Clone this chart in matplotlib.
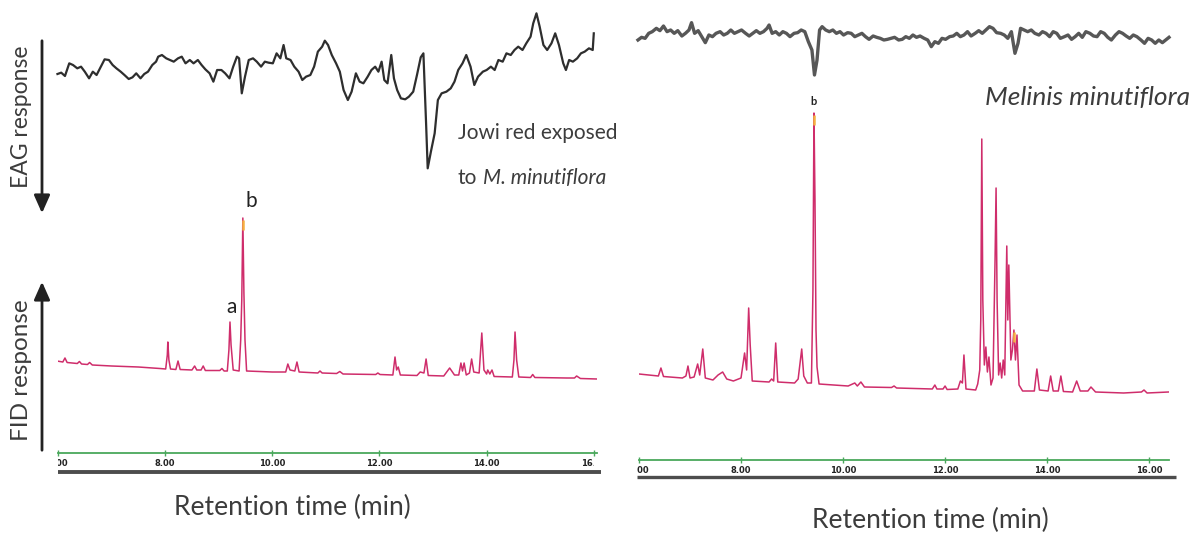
import matplotlib.pyplot as plt
from matplotlib.patches import FancyArrowPatch, Rectangle

plt.rcParams['font.family'] = ['Lato', 'DejaVu Sans']

# ---- EAG traces (time in min, response in arbitrary units) ----
eag_left_t = [
    5.99, 6.06, 6.13, 6.21, 6.28, 6.36, 6.43, 6.50, 6.58, 6.65,
    6.72, 6.80, 6.87, 6.95, 7.02, 7.09, 7.17, 7.24, 7.32, 7.39,
    7.46, 7.54, 7.61, 7.68, 7.76, 7.83, 7.87, 7.94, 8.02, 8.09,
    8.16, 8.24, 8.31, 8.38, 8.46, 8.53, 8.61, 8.68, 8.75, 8.83,
    8.90, 8.97, 9.05, 9.12, 9.20, 9.27, 9.34, 9.38, 9.43, 9.49,
    9.56, 9.64, 9.71, 9.79, 9.86, 9.93, 10.01, 10.08, 10.15, 10.21,
    10.26, 10.34, 10.41, 10.49, 10.56, 10.63, 10.71, 10.78, 10.85, 10.93,
    10.98, 11.04, 11.11, 11.19, 11.26, 11.33, 11.41, 11.48, 11.56, 11.63,
    11.70, 11.78, 11.85, 11.92, 11.98, 12.04, 12.09, 12.15, 12.22, 12.27,
    12.33, 12.40, 12.48, 12.55, 12.63, 12.70, 12.77, 12.82, 12.87, 12.90,
    12.96, 13.03, 13.09, 13.16, 13.25, 13.33, 13.40, 13.47, 13.55, 13.62,
    13.70, 13.77, 13.84, 13.93, 14.00, 14.08, 14.15, 14.22, 14.30, 14.37,
    14.45, 14.52, 14.59, 14.67, 14.74, 14.82, 14.87, 14.93, 14.99, 15.06,
    15.13, 15.21, 15.28, 15.35, 15.43, 15.48, 15.54, 15.61, 15.69, 15.76,
    15.83, 15.91, 15.98, 16.00]
eag_left_v = [
    -1.2, -0.8, -1.8, 2.0, 1.5, 0.5, 1.0, -0.5, -2.5, -0.5,
    -1.5, 1.0, 3.2, 3.0, 1.5, 0.5, -0.5, -1.5, -2.7, -2.2,
    -1.0, -2.5, -1.2, -0.5, 1.5, 2.5, 4.0, 4.5, 3.5, 3.0,
    2.5, 3.5, 4.0, 2.0, 3.0, 2.0, 3.0, 1.5, 0.2, -1.0,
    -3.5, 0.0, 0.0, -1.0, -2.5, 1.0, 4.0, 3.5, -7.0, -2.0,
    3.0, 3.5, 2.5, 1.0, 2.5, 2.2, 2.0, 5.0, 3.5, 7.5,
    3.5, 3.0, 1.0, -0.5, -3.0, -2.0, -1.5, 1.0, 5.5, 7.0,
    8.8, 7.5, 4.5, 2.0, -0.5, -6.0, -9.0, -6.5, -1.0, -3.5,
    -4.0, -2.0, 0.0, 1.0, -0.5, 2.5, -3.0, -4.0, 4.5, -2.5,
    -6.0, -8.5, -8.8, -8.0, -6.5, -1.5, 3.8, 5.0, -16.0, -29.5,
    -24.5, -19.0, -9.0, -7.0, -6.5, -5.5, -3.5, 0.0, 2.0, 4.5,
    1.0, -4.5, -2.0, -0.5, 0.0, 1.0, 0.0, 3.0, 2.5, 5.0,
    4.5, 6.0, 7.0, 6.0, 8.0, 10.0, 14.0, 17.0, 13.0, 7.5,
    6.0, 8.0, 11.0, 7.5, 2.0, 0.0, 3.0, 2.5, 3.5, 5.0,
    5.5, 6.5, 6.0, 11.0]

eag_right_t = [
    5.98, 6.05, 6.12, 6.19, 6.26, 6.34, 6.41, 6.48, 6.55, 6.62,
    6.69, 6.76, 6.84, 6.91, 6.98, 7.03, 7.09, 7.16, 7.23, 7.30,
    7.37, 7.44, 7.51, 7.59, 7.66, 7.73, 7.80, 7.87, 7.94, 8.01,
    8.09, 8.16, 8.23, 8.30, 8.37, 8.44, 8.51, 8.55, 8.61, 8.68,
    8.75, 8.82, 8.89, 8.96, 9.04, 9.11, 9.18, 9.25, 9.32, 9.39,
    9.44, 9.49, 9.54, 9.59, 9.66, 9.73, 9.80, 9.87, 9.94, 10.01,
    10.09, 10.16, 10.23, 10.30, 10.37, 10.44, 10.51, 10.59, 10.66, 10.73,
    10.80, 10.87, 10.94, 11.01, 11.09, 11.16, 11.23, 11.30, 11.37, 11.44,
    11.51, 11.59, 11.66, 11.73, 11.80, 11.87, 11.94, 12.01, 12.09, 12.16,
    12.23, 12.30, 12.37, 12.44, 12.51, 12.59, 12.66, 12.73, 12.80, 12.87,
    12.94, 13.01, 13.09, 13.16, 13.23, 13.30, 13.37, 13.43, 13.48, 13.55,
    13.62, 13.69, 13.76, 13.84, 13.91, 13.98, 14.05, 14.12, 14.19, 14.26,
    14.34, 14.41, 14.48, 14.55, 14.62, 14.69, 14.76, 14.84, 14.91, 14.98,
    15.05, 15.12, 15.19, 15.26, 15.34, 15.41, 15.48, 15.55, 15.62, 15.69,
    15.76, 15.84, 15.91, 15.98, 16.05, 16.12, 16.19, 16.26, 16.34, 16.39]
eag_right_v = [
    -0.5, 0.3, 0.0, 1.5, 2.0, 3.0, 2.3, 3.7, 2.0, 2.5,
    1.5, 2.3, 0.7, 1.5, 2.5, 4.7, 1.5, 2.3, 0.5, -1.3,
    1.0, 0.5, 1.5, 2.0, 1.0, 1.5, 2.5, 1.5, 2.0, 2.5,
    1.5, 0.7, 1.5, 2.3, 1.5, 2.0, 3.0, 4.0, 1.5, 2.0,
    1.0, 2.0, 1.5, 0.5, 1.5, 1.7, 2.5, 2.0, -1.0, -3.5,
    -11.0, -6.5, 2.5, 3.5, 2.5, 2.0, 2.5, 1.5, 2.0, 1.0,
    1.7, 1.5, 0.5, 1.0, 1.5, 0.5, -0.3, 0.7, 0.3, 0.0,
    -0.5, -0.3, 0.0, 0.3, -0.5, -0.3, 0.5, 0.0, 1.0, 0.3,
    0.7, 0.0, -0.5, -2.5, -1.0, -1.5, 0.0, -0.3, 0.5, 0.7,
    1.5, 0.5, 1.0, 2.0, 0.7, 1.5, 2.3, 1.5, 2.5, 3.5,
    3.0, 1.7, 1.5, 1.0, 0.0, 2.0, -4.5, -1.5, 3.0, 2.5,
    2.0, 2.5, 1.5, 1.0, 2.0, 1.5, 0.5, 2.0, 1.5, 0.0,
    0.5, 1.0, -0.3, 0.5, 1.5, 0.3, 2.0, 1.5, 0.7, 0.5,
    2.0, 1.5, 0.3, -0.5, 1.0, 2.0, 1.5, 0.7, 0.0, 1.0,
    0.5, -0.5, -1.5, 0.0, -0.5, -1.5, -0.5, -1.3, -0.3, 0.3]

# ---- FID chromatograms ----
fid_left_t = [
    5.98, 6.09, 6.13, 6.17, 6.36, 6.40, 6.44, 6.55, 6.59, 6.64,
    7.00, 7.50, 7.90, 8.01, 8.04, 8.05, 8.07, 8.10, 8.20, 8.24,
    8.28, 8.50, 8.55, 8.59, 8.67, 8.71, 8.75, 9.02, 9.06, 9.10,
    9.16, 9.19, 9.21, 9.23, 9.27, 9.38, 9.41, 9.43, 9.45, 9.47,
    9.49, 9.52, 10.00, 10.25, 10.29, 10.33, 10.42, 10.46, 10.50, 10.85,
    10.89, 10.93, 11.20, 11.26, 11.32, 11.93, 11.97, 12.01, 12.25, 12.29,
    12.32, 12.35, 12.39, 12.70, 12.76, 12.83, 12.87, 12.91, 13.20, 13.31,
    13.40, 13.48, 13.52, 13.55, 13.58, 13.62, 13.68, 13.72, 13.76, 13.86,
    13.91, 13.95, 14.00, 14.02, 14.06, 14.10, 14.14, 14.48, 14.51, 14.53,
    14.56, 14.60, 14.82, 14.86, 14.90, 15.50, 15.64, 15.68, 15.75, 16.06]
fid_left_v = [
    2.9, 2.8, 3.2, 2.75, 2.65, 2.85, 2.6, 2.55, 2.75, 2.5,
    2.4, 2.3, 2.15, 2.1, 3.5, 4.8, 3.0, 2.1, 2.05, 2.9,
    2.05, 2.0, 2.4, 2.0, 2.0, 2.4, 1.95, 1.95, 2.15, 1.9,
    1.9, 4.0, 6.8, 4.5, 2.0, 1.9, 5.0, 9.0, 17.2, 9.7,
    5.0, 1.9, 1.8, 1.8, 2.6, 2.0, 1.9, 2.8, 1.8, 1.7,
    1.9, 1.7, 1.65, 1.85, 1.6, 1.55, 1.7, 1.55, 1.5, 3.3,
    2.0, 2.3, 1.5, 1.45, 1.8, 1.7, 3.1, 1.45, 1.4, 2.2,
    1.5, 1.5, 2.7, 1.9, 2.7, 1.5, 1.7, 3.1, 1.8, 1.7,
    5.7, 2.0, 1.6, 2.0, 1.6, 2.0, 1.35, 1.3, 3.0, 5.8,
    3.0, 1.3, 1.25, 1.55, 1.25, 1.2, 1.2, 1.4, 1.15, 1.1]

fid_right_t = [
    6.00, 6.38, 6.43, 6.48, 6.85, 6.92, 6.96, 7.00, 7.08, 7.15,
    7.19, 7.25, 7.30, 7.45, 7.55, 7.64, 7.72, 7.85, 8.00, 8.07,
    8.11, 8.15, 8.18, 8.22, 8.55, 8.60, 8.64, 8.68, 8.72, 9.05,
    9.12, 9.19, 9.23, 9.30, 9.38, 9.41, 9.43, 9.45, 9.47, 9.49,
    9.53, 10.10, 10.23, 10.28, 10.35, 10.42, 10.95, 11.00, 11.05, 11.75,
    11.80, 11.84, 11.96, 12.00, 12.04, 12.25, 12.30, 12.34, 12.37, 12.41,
    12.60, 12.64, 12.68, 12.70, 12.72, 12.74, 12.77, 12.80, 12.83, 12.86,
    12.90, 12.94, 12.98, 13.00, 13.02, 13.05, 13.08, 13.11, 13.14, 13.17,
    13.21, 13.23, 13.25, 13.29, 13.32, 13.35, 13.38, 13.41, 13.45, 13.52,
    13.75, 13.80, 13.85, 14.02, 14.07, 14.12, 14.22, 14.27, 14.32, 14.50,
    14.58, 14.65, 14.80, 14.86, 14.95, 15.50, 15.85, 15.90, 15.96, 16.38]
fid_right_v = [
    2.6, 2.4, 3.2, 2.35, 2.2, 2.4, 3.4, 2.2, 2.3, 3.6,
    2.5, 5.1, 2.2, 2.0, 2.5, 2.8, 2.1, 1.9, 2.2, 4.7,
    3.0, 9.2, 5.5, 1.9, 1.8, 2.1, 1.9, 5.7, 1.8, 1.7,
    2.1, 5.1, 2.4, 1.7, 1.7, 11.0, 28.7, 20.0, 7.0, 3.3,
    1.6, 1.4, 1.7, 1.4, 1.8, 1.3, 1.25, 1.4, 1.2, 1.1,
    1.5, 1.1, 1.1, 1.4, 1.05, 1.1, 1.9, 1.7, 4.5, 1.1,
    1.0, 1.6, 3.0, 8.0, 26.1, 10.0, 3.5, 5.3, 2.8, 4.3,
    1.5, 2.2, 14.0, 21.2, 10.0, 2.5, 3.7, 2.2, 4.0, 2.5,
    15.4, 8.0, 13.5, 4.0, 5.0, 7.0, 4.0, 6.5, 1.5, 0.9,
    0.9, 3.1, 1.0, 0.9, 2.4, 0.9, 0.9, 2.4, 0.85, 0.8,
    1.9, 0.9, 0.9, 1.3, 0.8, 0.7, 0.8, 1.0, 0.7, 0.8]

# detector highlight at peak tops
tips_left_t, tips_left_v = [9.45], [17.2]
tips_right_t, tips_right_v = [9.43, 13.35], [28.7, 7.0]

ticks = [6, 8, 10, 12, 14, 16]

W, H = 1191, 533
fig = plt.figure(figsize=(W / 100, H / 100), dpi=100)

fid_col = '#cf2d6b'
green = '#4aa85c'
txt = '#3c3c3c'


def box(x0, y0, x1, y1):
    return [x0 / W, 1 - y1 / H, (x1 - x0) / W, (y1 - y0) / H]


def fp(x, y):
    return (x / W, 1 - y / H)


def style_fid(ax, x0, x1):
    for s in ['top', 'right', 'left']:
        ax.spines[s].set_visible(False)
    ax.spines['bottom'].set_color(green)
    ax.spines['bottom'].set_linewidth(1.3)
    ax.set_yticks([])
    ax.set_xticks(ticks)
    ax.set_xticklabels(['%.2f' % t for t in ticks], fontsize=6,
                       fontweight='bold', color='#222222', family='DejaVu Sans')
    ax.tick_params(axis='x', direction='inout', length=5, width=1,
                   color=green, pad=2)
    ax.patch.set_visible(False)
    clip = Rectangle((x0 / W, 0), (x1 - x0) / W, 1, transform=fig.transFigure)
    for lbl in ax.get_xticklabels():
        lbl.set_clip_box(None)
        lbl.set_clip_path(clip)
        lbl.set_clip_on(True)


# ---------------- left panel ----------------
ax_el = fig.add_axes(box(58, 10, 597, 180))
ax_el.plot(eag_left_t, eag_left_v, color='#2e2e2e', lw=1.6, clip_on=False)
ax_el.set_xlim(6.0, 16.06)
ax_el.set_ylim(-33, 18)
ax_el.axis('off')

ax_fl = fig.add_axes(box(58, 200, 597, 453))
ax_fl.plot(fid_left_t, fid_left_v, color=fid_col, lw=1.1)
ax_fl.vlines(tips_left_t, [v - 1.2 for v in tips_left_v],
             [v - 0.2 for v in tips_left_v], color='#f5b041', lw=1.8)
ax_fl.set_xlim(6.0, 16.06)
ax_fl.set_ylim(-6.3, 19.0)
style_fid(ax_fl, 58, 594)
ax_fl.plot([0, 1.007], [-0.075, -0.075], transform=ax_fl.transAxes,
           clip_on=False, color='#4d4d4d', lw=2.8, solid_capstyle='butt')
ax_fl.annotate('b', xy=(9.45, 17.2), xytext=(6, 12), textcoords='offset points',
               ha='center', va='center', fontsize=15, color='#222222')
ax_fl.annotate('a', xy=(9.21, 6.8), xytext=(1, 11), textcoords='offset points',
               ha='center', va='center', fontsize=15, color='#222222')

fig.text(*fp(292, 507), 'Retention time (min)', ha='center', va='center',
         fontsize=19, color=txt)
fig.text(*fp(22, 117), 'EAG response', rotation=90, ha='center', va='center',
         fontsize=16.5, color=txt)
fig.text(*fp(22, 370), 'FID response', rotation=90, ha='center', va='center',
         fontsize=17.5, color=txt)
fig.add_artist(FancyArrowPatch(fp(42, 38), fp(42, 216), transform=fig.transFigure,
                               arrowstyle='-|>,head_length=0.9,head_width=0.4',
                               mutation_scale=12, lw=2, color='#222222'))
fig.add_artist(FancyArrowPatch(fp(42, 453), fp(42, 279), transform=fig.transFigure,
                               arrowstyle='-|>,head_length=0.9,head_width=0.4',
                               mutation_scale=12, lw=2, color='#222222'))

fig.text(*fp(458, 133), 'Jowi red exposed', ha='left', va='center',
         fontsize=15, color=txt)
t_to = fig.text(*fp(458, 178), 'to', ha='left', va='center',
                fontsize=15, color=txt)
ax_el.annotate('M. minutiflora', xy=(1, 0.5), xycoords=t_to, xytext=(4, 0),
               textcoords='offset points', ha='left', va='center',
               fontsize=15, color=txt, style='italic', annotation_clip=False)

# ---------------- right panel ----------------
ax_er = fig.add_axes(box(639, 5, 1169, 90))
ax_er.plot(eag_right_t, eag_right_v, color='#575757', lw=2.4, clip_on=False)
ax_er.set_xlim(6.0, 16.39)
ax_er.set_ylim(-15.5, 10.0)
ax_er.axis('off')

ax_fr = fig.add_axes(box(639, 95, 1169, 460))
ax_fr.plot(fid_right_t, fid_right_v, color=fid_col, lw=1.1)
ax_fr.vlines(tips_right_t, [v - 1.2 for v in tips_right_v],
             [v - 0.2 for v in tips_right_v], color='#f5b041', lw=1.8)
ax_fr.set_xlim(6.0, 16.39)
ax_fr.set_ylim(-6.0, 30.5)
style_fid(ax_fr, 637, 1180)
ax_fr.plot([-0.004, 1.013], [-0.047, -0.047], transform=ax_fr.transAxes,
           clip_on=False, color='#4d4d4d', lw=2.4, solid_capstyle='butt')
ax_fr.annotate('b', xy=(9.43, 28.7), xytext=(0, 8), textcoords='offset points',
               ha='center', va='center', fontsize=8, fontweight='bold',
               color='#222222')

fig.text(*fp(1190, 97), 'Melinis minutiflora', ha='right', va='center',
         fontsize=19, style='italic', color=txt)
fig.text(*fp(930, 520), 'Retention time (min)', ha='center', va='center',
         fontsize=19, color=txt)

fig.savefig('out.png', dpi=100)
